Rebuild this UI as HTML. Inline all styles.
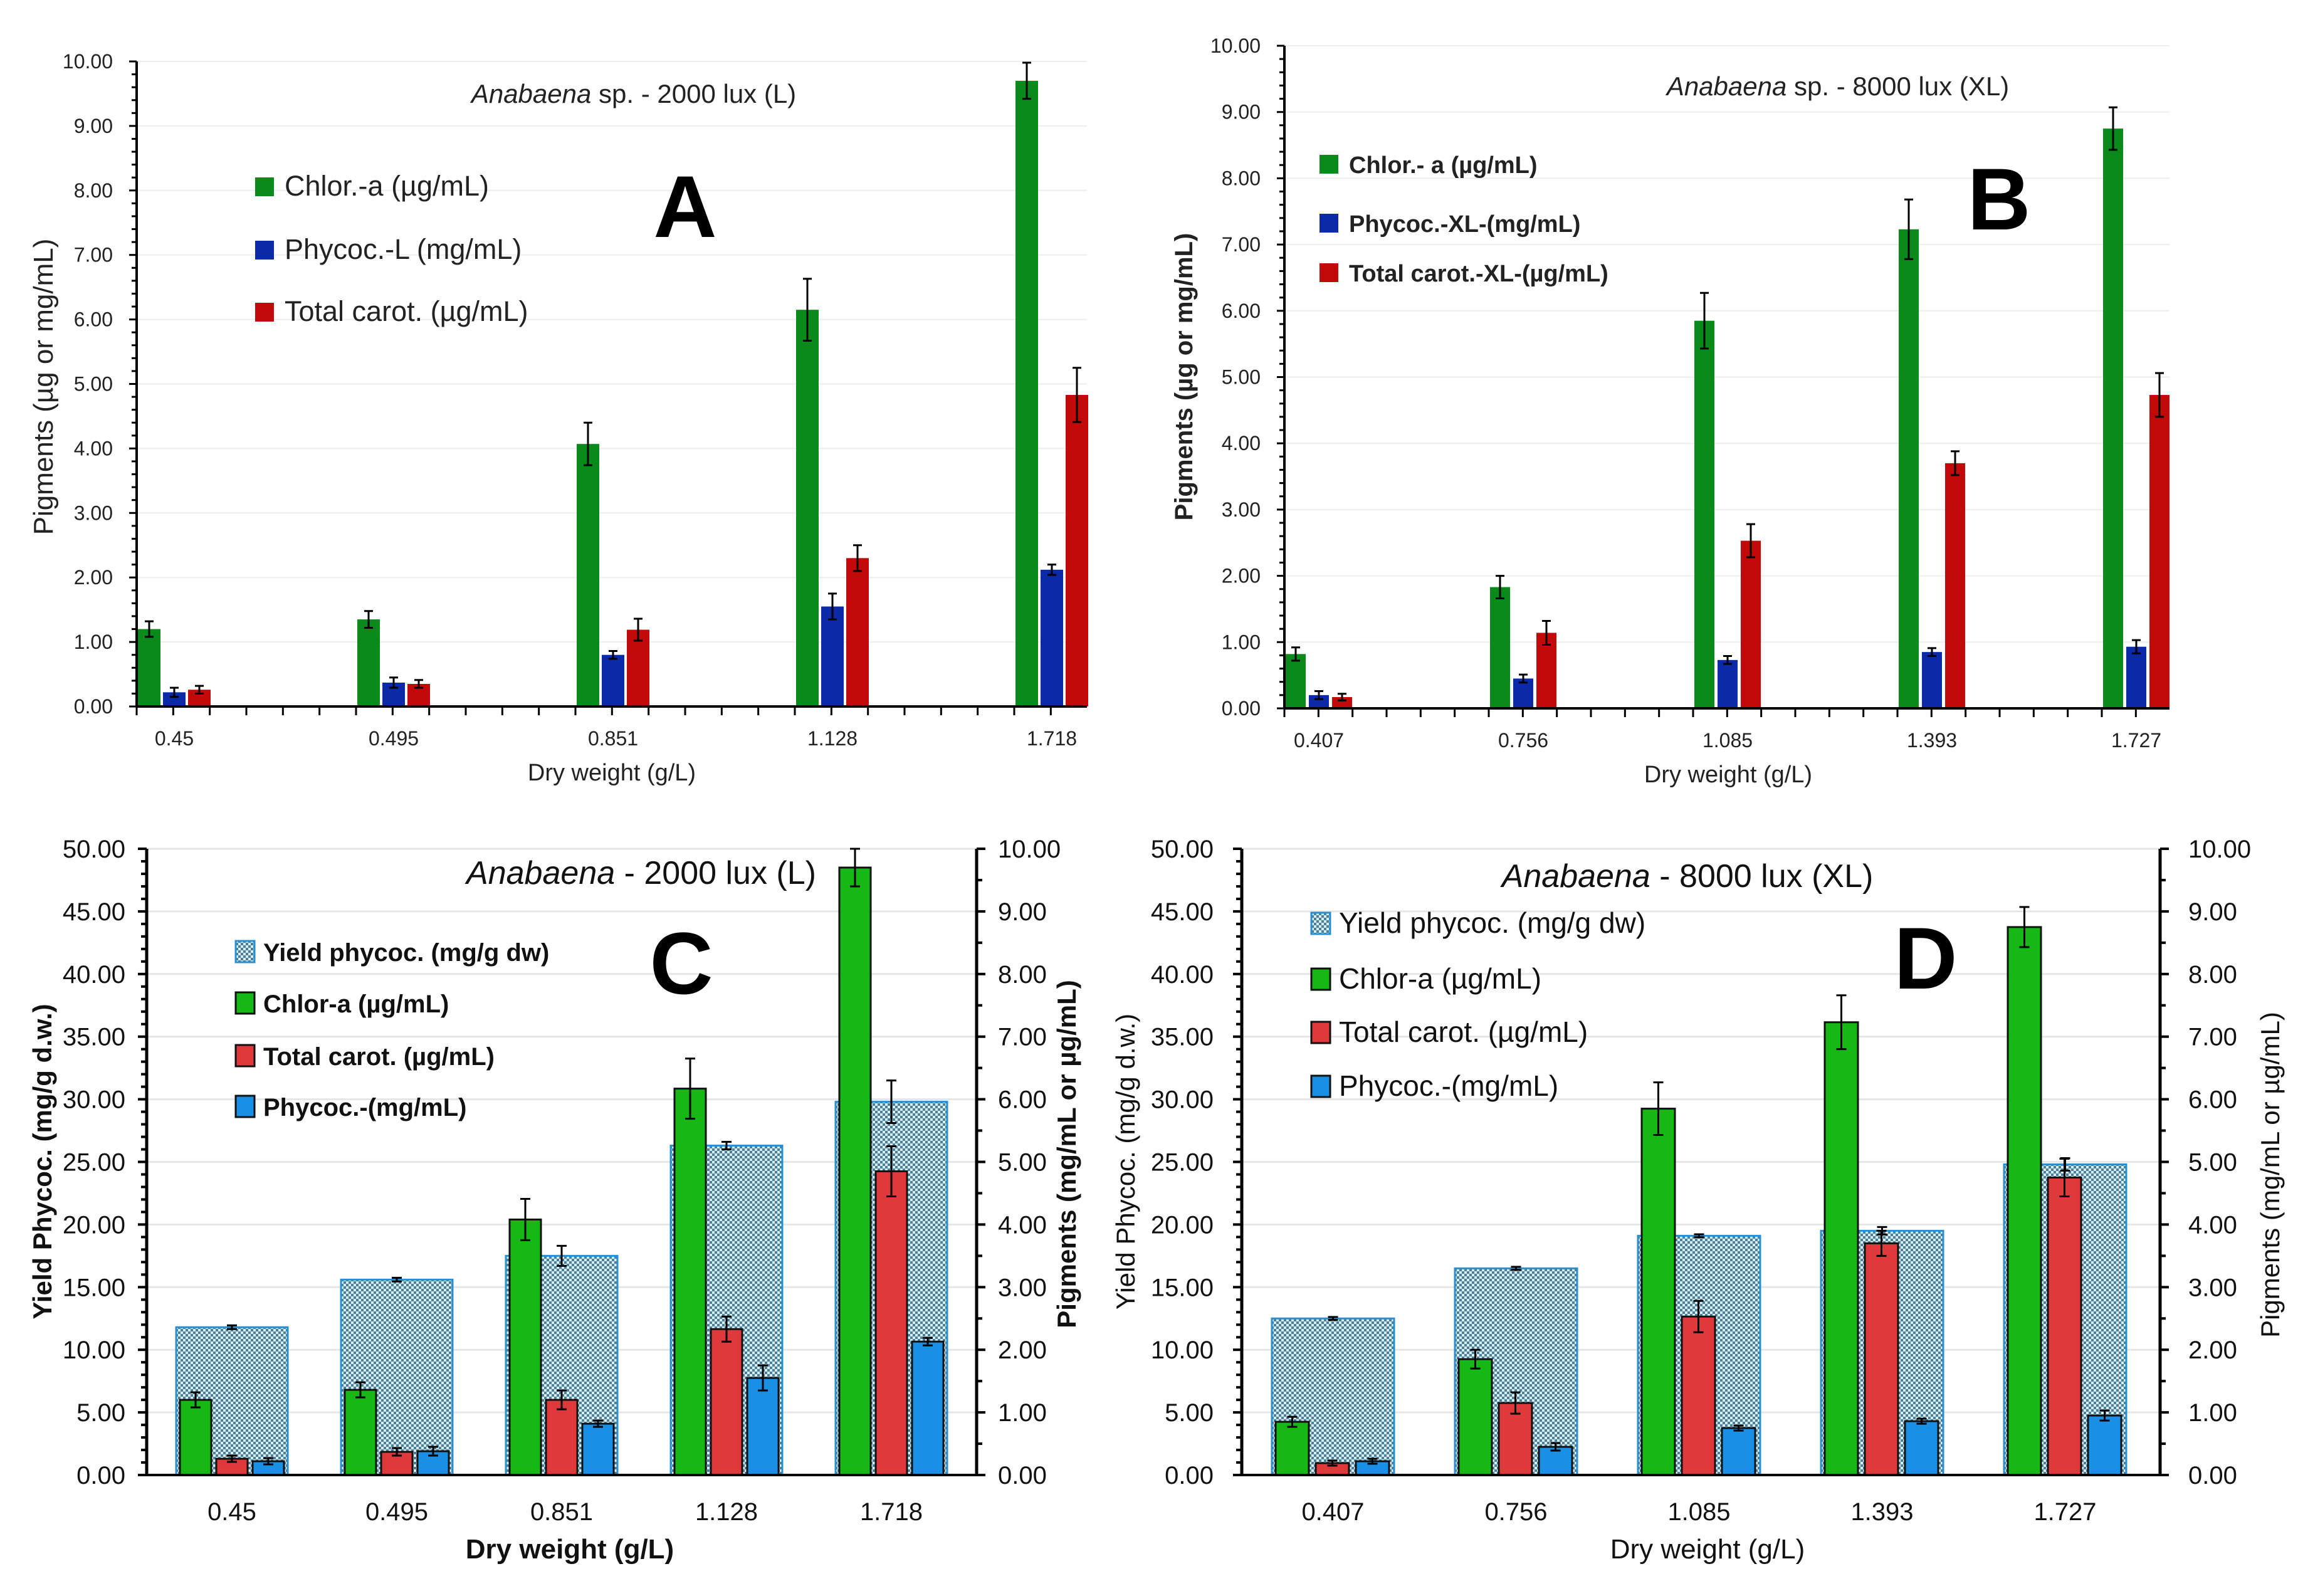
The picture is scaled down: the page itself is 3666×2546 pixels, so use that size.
<!DOCTYPE html>
<html><head><meta charset="utf-8"><style>
html,body{margin:0;padding:0;background:#fff;}
svg{display:block;font-family:"Liberation Sans",sans-serif;}
</style></head><body>
<svg id="fig" width="3666" height="2546" viewBox="0 0 3666 2546" xmlns="http://www.w3.org/2000/svg">
<defs>
<pattern id="hatch" width="8" height="8" patternUnits="userSpaceOnUse">
<rect width="8" height="8" fill="#d8eef6"/>
<rect x="0" y="0" width="4" height="4" fill="#4d7f96"/>
<rect x="4" y="4" width="4" height="4" fill="#4d7f96"/>
</pattern>
</defs>
</svg>
<script>
// ---------- DATA ----------
const catsA = ["0.45","0.495","0.851","1.128","1.718"];
const chlA = [1.2,1.35,4.07,6.15,9.7];
const chlAErr = [0.12,0.13,0.33,0.48,0.28];
const phyA = [0.22,0.37,0.8,1.55,2.12];
const phyAErr = [0.07,0.08,0.06,0.2,0.08];
const carA = [0.26,0.35,1.19,2.3,4.83];
const carAErr = [0.06,0.06,0.17,0.2,0.42];

const catsB = ["0.407","0.756","1.085","1.393","1.727"];
const chlB = [0.82,1.83,5.85,7.23,8.75];
const chlBErr = [0.1,0.17,0.42,0.45,0.32];
const phyB = [0.2,0.45,0.73,0.85,0.93];
const phyBErr = [0.06,0.06,0.06,0.06,0.1];
const carB = [0.17,1.14,2.53,3.7,4.73];
const carBErr = [0.05,0.18,0.25,0.18,0.33];

const yieldC = [11.8,15.6,17.5,26.3,29.8];
const yieldCErr = [0.15,0.15,0.8,0.3,1.7];
const chlC = [1.2,1.36,4.08,6.17,9.7];
const chlCErr = [0.12,0.12,0.33,0.48,0.3];
const carC = [0.26,0.37,1.2,2.33,4.85];
const carCErr = [0.05,0.06,0.15,0.2,0.4];
const phyC = [0.22,0.38,0.82,1.55,2.13];
const phyCErr = [0.05,0.07,0.05,0.2,0.06];

const yieldD = [12.5,16.5,19.1,19.5,24.8];
const yieldDErr = [0.12,0.12,0.12,0.3,0.5];
const chlD = [0.85,1.85,5.85,7.23,8.75];
const chlDErr = [0.08,0.15,0.42,0.43,0.32];
const carD = [0.19,1.15,2.53,3.7,4.75];
const carDErr = [0.04,0.17,0.25,0.2,0.3];
const phyD = [0.22,0.45,0.75,0.86,0.95];
const phyDErr = [0.04,0.06,0.04,0.04,0.08];

const ticks10 = [0,1,2,3,4,5,6,7,8,9,10];
const ticks50 = [0,5,10,15,20,25,30,35,40,45,50];

// ---------- DRAW ----------
const svg = document.getElementById('fig');
const NS = "http://www.w3.org/2000/svg";
function el(tag, attrs, parent){const e=document.createElementNS(NS,tag);for(const k in attrs)e.setAttribute(k,attrs[k]);(parent||svg).appendChild(e);return e;}
function txt(s, attrs, parent){const e=el('text',attrs,parent);e.textContent=s;return e;}

function axisY(yTop,yBot,max){return v=>yBot-(v/max)*(yBot-yTop);}

function errBar(g,cx,yFn,v,e,cap){
  const l=el('path',{d:`M${cx},${yFn(v-e)}V${yFn(v+e)}M${cx-cap},${yFn(v+e)}h${2*cap}M${cx-cap},${yFn(v-e)}h${2*cap}`,stroke:'#000','stroke-width':3,fill:'none'},g);
  
  
}

function panelTop(cfg){
  const g=el('g',{});
  
  
  const y=axisY(cfg.yTop,cfg.yBot,10);
  ticks10.forEach(t=>{ if(t>0){const gl=el('line',{x1:cfg.x0,x2:cfg.x1,y1:y(t),y2:y(t),stroke:'#eeeeee','stroke-width':2},g);
    
    }});
  for(let v=0;v<=10.001;v+=0.2){el('line',{x1:cfg.x0-(Math.abs(v-Math.round(v))<0.01?12:8),x2:cfg.x0,y1:y(v),y2:y(v),stroke:'#000','stroke-width':3},g);}
  ticks10.forEach(t=>{const tl=txt(t.toFixed(2),{x:cfg.x0-38,y:y(t)+11,'text-anchor':'end','font-size':32,fill:'#222'},g);
    
    });
  const series=[[cfg.chl,cfg.chlE,'#0b8a1c'],[cfg.phy,cfg.phyE,'#0a2aa8'],[cfg.car,cfg.carE,'#c20a0a']];
  cfg.cats.forEach((c,i)=>{
    const gx=cfg.x0+cfg.off+i*cfg.sp;
    series.forEach((s,k)=>{
      const bx=gx+k*cfg.pitch;
      const r=el('rect',{x:bx,y:y(s[0][i]),width:cfg.bw,height:cfg.yBot-y(s[0][i]),fill:s[2]},g);
      
      
      errBar(g,bx+cfg.bw/2,y,s[0][i],s[1][i],7);
    });
    const cx=gx+cfg.pitch+cfg.bw/2;
    const xl=txt(c,{x:cx,y:cfg.yBot+62,'text-anchor':'middle','font-size':32,fill:'#222'},g);
    
    
  });
  el('line',{x1:cfg.x0,x2:cfg.x1,y1:cfg.yBot,y2:cfg.yBot,stroke:'#000','stroke-width':4},g);
  for(let i=0;i<=25;i++){const tx=cfg.x0+i*cfg.sp/6; if(tx<=cfg.x1+1) el('line',{x1:tx,x2:tx,y1:cfg.yBot,y2:cfg.yBot+14,stroke:'#000','stroke-width':3},g);}
  el('line',{x1:cfg.x0,x2:cfg.x0,y1:cfg.yTop,y2:cfg.yBot,stroke:'#000','stroke-width':4},g);
  const xt=txt('Dry weight (g/L)',{x:cfg.xtX,y:cfg.yBot+118,'text-anchor':'middle','font-size':38,fill:'#222'},g);
  
  
  const yt=txt('Pigments (µg or mg/mL)',{x:0,y:0,'text-anchor':'middle','font-size':cfg.ytFs,fill:'#222','font-weight':cfg.ytBold?'bold':'normal',transform:`translate(${cfg.ytX},${cfg.ytY}) rotate(-90)`},g);
  
  
  const tt=el('text',{x:cfg.tX,y:cfg.tY,'text-anchor':'middle','font-size':42,fill:'#222'},g);
  tt.innerHTML=`<tspan font-style="italic">Anabaena</tspan> ${cfg.title}`;
  
  
  const lt=txt(cfg.letter,{x:cfg.lX,y:cfg.lY,'text-anchor':'middle','font-size':140,'font-weight':'bold',fill:'#000'},g);
  
  
  cfg.leg.forEach((L,k)=>{
    const r=el('rect',{x:cfg.legX,y:cfg.legY[k]-14,width:30,height:30,fill:series[k][2]},g);
    
    
    const t=txt(L,{x:cfg.legX+47,y:cfg.legY[k]+15,'font-size':cfg.legFs,fill:'#222','font-weight':cfg.ytBold?'bold':'normal'},g);
    
    
  });
}

function panelBottom(cfg){
  const g=el('g',{});
  
  
  const yL=axisY(cfg.yTop,cfg.yBot,50), yR=axisY(cfg.yTop,cfg.yBot,10);
  ticks50.forEach(t=>{ if(t>0){const gl=el('line',{x1:cfg.x0,x2:cfg.x1,y1:yL(t),y2:yL(t),stroke:'#e6e6e6','stroke-width':3},g);
    
    }});
  for(let v=0;v<=50.001;v+=1){el('line',{x1:cfg.x0-(v%5===0?14:9),x2:cfg.x0,y1:yL(v),y2:yL(v),stroke:'#000','stroke-width':4},g);}
  for(let v=0;v<=10.001;v+=0.5){el('line',{x1:cfg.x1,x2:cfg.x1+(Math.abs(v-Math.round(v))<0.01?14:9),y1:yR(v),y2:yR(v),stroke:'#000','stroke-width':4},g);}
  ticks50.forEach(t=>{const tl=txt(t.toFixed(2),{x:cfg.x0-cfg.lgap,y:yL(t)+14,'text-anchor':'end','font-size':40,fill:'#111'},g);
    
    });
  ticks10.forEach(t=>{const tl=txt(t.toFixed(2),{x:cfg.x1+cfg.rgap,y:yR(t)+14,'font-size':40,fill:'#111'},g);
    
    });
  const series=[[cfg.chl,cfg.chlE,'#16b816'],[cfg.car,cfg.carE,'#e0393b'],[cfg.phy,cfg.phyE,'#1a8fe6']];
  cfg.cats.forEach((c,i)=>{
    const gx=cfg.x0+cfg.off+i*cfg.sp;
    const yb=el('rect',{x:gx,y:yL(cfg.yld[i]),width:cfg.yw,height:cfg.yBot-yL(cfg.yld[i]),fill:'url(#hatch)',stroke:'#2a8fd0','stroke-width':3},g);
    
    
    series.forEach((s,k)=>{
      const bx=gx+6+k*cfg.pitch;
      const r=el('rect',{x:bx,y:yR(s[0][i]),width:cfg.bw,height:cfg.yBot-yR(s[0][i]),fill:s[2],stroke:'#111','stroke-width':3},g);
      
      
      errBar(g,bx+cfg.bw/2,yR,s[0][i],s[1][i],8);
    });
    errBar(g,gx+cfg.yw/2,yL,cfg.yld[i],cfg.yldE[i],8);
    const xl=txt(c,{x:gx+cfg.yw/2,y:cfg.yBot+72,'text-anchor':'middle','font-size':40,fill:'#111'},g);
    
    
  });
  el('line',{x1:cfg.x0,x2:cfg.x1,y1:cfg.yBot,y2:cfg.yBot,stroke:'#000','stroke-width':4},g);
  el('line',{x1:cfg.x0,x2:cfg.x0,y1:cfg.yTop,y2:cfg.yBot,stroke:'#000','stroke-width':5},g);
  el('line',{x1:cfg.x1,x2:cfg.x1,y1:cfg.yTop,y2:cfg.yBot,stroke:'#000','stroke-width':5},g);
  const xt=txt('Dry weight (g/L)',{x:cfg.xtX,y:cfg.yBot+133,'text-anchor':'middle','font-size':44,fill:'#111','font-weight':cfg.bold?'bold':'normal'},g);
  
  
  const yt=txt('Yield Phycoc. (mg/g d.w.)',{x:0,y:0,'text-anchor':'middle','font-size':42,fill:'#111','font-weight':cfg.bold?'bold':'normal',transform:`translate(${cfg.ytX},${cfg.ytY}) rotate(-90)`},g);
  
  
  const yt2=txt('Pigments  (mg/mL  or  µg/mL)',{x:0,y:0,'text-anchor':'middle','font-size':42,fill:'#111','font-weight':cfg.bold?'bold':'normal',transform:`translate(${cfg.yt2X},${cfg.yt2Y}) rotate(-90)`},g);
  
  
  const tt=el('text',{x:cfg.tX,y:cfg.tY,'text-anchor':'middle','font-size':52,fill:'#111'},g);
  tt.innerHTML=`<tspan font-style="italic">Anabaena</tspan> ${cfg.title}`;
  
  
  const lt=txt(cfg.letter,{x:cfg.lX,y:cfg.lY,'text-anchor':'middle','font-size':140,'font-weight':'bold',fill:'#000'},g);
  
  
  const fills=['url(#hatch)','#16b816','#e0393b','#1a8fe6'];
  cfg.leg.forEach((L,k)=>{
    const r=el('rect',{x:cfg.legX,y:cfg.legY[k]-16,width:30,height:34,fill:fills[k],stroke:k===0?'#2a8fd0':'#111','stroke-width':3},g);
    
    
    const t=txt(L,{x:cfg.legX+44,y:cfg.legY[k]+16,'font-size':cfg.legFs,fill:'#111','font-weight':cfg.bold?'bold':'normal'},g);
    
    
  });
}

panelTop({name:'panel-a',x0:218,x1:1734,yTop:98,yBot:1127,off:2,sp:350,bw:36,pitch:40,cats:catsA,
  chl:chlA,chlE:chlAErr,phy:phyA,phyE:phyAErr,car:carA,carE:carAErr,ytFs:44,
  xtX:976,ytX:84,ytY:617,tX:1011,tY:164,title:'sp. - 2000 lux (L)',letter:'A',lX:1093,lY:378,
  legX:407,legY:[297,398,497],legFs:45,leg:['Chlor.-a (µg/mL)','Phycoc.-L (mg/mL)','Total carot. (µg/mL)']});
panelTop({name:'panel-b',x0:2049,x1:3461,yTop:73,yBot:1130,off:2,sp:326,bw:32,pitch:37,cats:catsB,
  chl:chlB,chlE:chlBErr,phy:phyB,phyE:phyBErr,car:carB,carE:carBErr,ytBold:true,ytFs:40,
  xtX:2757,ytX:1902,ytY:601,tX:2932,tY:152,title:'sp. - 8000 lux (XL)',letter:'B',lX:3189,lY:366,
  legX:2105,legY:[261,355,434],legFs:38,leg:['Chlor.- a (µg/mL)','Phycoc.-XL-(mg/mL)','Total carot.-XL-(µg/mL)']});
panelBottom({name:'panel-c',x0:234,x1:1558,yTop:1354,yBot:2353,off:47,sp:263,yw:178,bw:50,pitch:58,cats:catsA,bold:true,lgap:34,rgap:34,
  yld:yieldC,yldE:yieldCErr,chl:chlC,chlE:chlCErr,car:carC,carE:carCErr,phy:phyC,phyE:phyCErr,
  xtX:909,ytX:82,ytY:1853,yt2X:1716,yt2Y:1841,tX:1023,tY:1410,title:'- 2000 lux (L)',letter:'C',lX:1087,lY:1585,
  legX:376,legY:[1517,1599,1683,1764],legFs:40,leg:['Yield phycoc. (mg/g dw)','Chlor-a (µg/mL)','Total carot. (µg/mL)','Phycoc.-(mg/mL)']});
panelBottom({name:'panel-d',x0:1981,x1:3446,yTop:1354,yBot:2353,off:48,sp:292,yw:195,bw:53,pitch:64,cats:catsB,lgap:45,rgap:45,
  yld:yieldD,yldE:yieldDErr,chl:chlD,chlE:chlDErr,car:carD,carE:carDErr,phy:phyD,phyE:phyDErr,
  xtX:2724,ytX:1810,ytY:1853,yt2X:3636,yt2Y:1874,tX:2692,tY:1415,title:'- 8000 lux (XL)',letter:'D',lX:3072,lY:1577,
  legX:2092,legY:[1472,1561,1646,1732],legFs:46,leg:['Yield phycoc. (mg/g dw)','Chlor-a (µg/mL)','Total carot. (µg/mL)','Phycoc.-(mg/mL)']});
</script>
</body></html>
